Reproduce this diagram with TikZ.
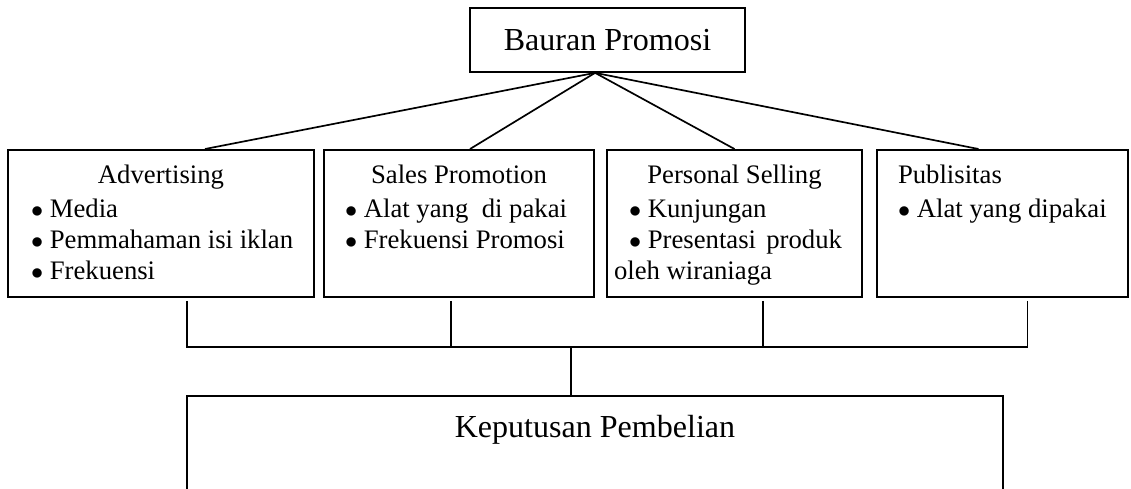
\documentclass[tikz,border=0pt]{standalone}
\usepackage{fontspec}
\setmainfont{Liberation Serif}

\begin{document}
\begin{tikzpicture}[
    ln/.style={line width=1.2pt},
    bigtxt/.style={font=\fontsize{22.8}{27}\selectfont},
    box/.style={draw, ln, anchor=north, inner xsep=0pt, inner ysep=0pt, text height=0.85cm, text depth=2.825cm, font=\fontsize{19}{22}\selectfont},
]
\useasboundingbox (0,0) rectangle (28.275,-12.2);

% Top
\node[draw, ln, bigtxt, minimum width=6.875cm, minimum height=1.6cm] (top) at (15.1875,-1.0) {Bauran Promosi};

% Elements of the mix
\node[box, minimum width=7.65cm] (adv) at (4.025,-3.725) {\parbox[t]{6.5cm}{\raggedright
    \makebox[\linewidth]{Advertising}\\[2pt]
    \mbox{$\bullet$ Media}\\
    \mbox{$\bullet$ Pemmahaman isi iklan}\\
    \mbox{$\bullet$ Frekuensi}}};
\node[box, minimum width=6.75cm] (sales) at (11.475,-3.725) {\parbox[t]{5.7cm}{\raggedright
    \makebox[\linewidth]{Sales Promotion}\\[2pt]
    \mbox{$\bullet$ Alat yang\ \ di pakai}\\
    \mbox{$\bullet$ Frekuensi Promosi}}};
\node[box, minimum width=6.375cm] (pers) at (18.3625,-3.725) {\parbox[t]{6.025cm}{\raggedright
    \makebox[\linewidth]{Personal Selling}\\[2pt]
    \hspace*{0.375cm}$\bullet$ Kunjungan\\
    \hspace*{0.375cm}$\bullet$ Presentasi\hfill produk\hspace{0.325cm}\mbox{}\\
    \mbox{oleh wiraniaga}}};
\node[box, minimum width=6.275cm] (pub) at (25.0625,-3.725) {\parbox[t]{5.225cm}{\raggedright
    Publisitas\\[2pt]
    \mbox{$\bullet$ Alat yang dipakai}}};

% Result
\node[draw, ln, bigtxt, anchor=north, minimum width=20.4cm, inner ysep=0pt, text height=1.05cm, text depth=3cm] (kep) at (14.875,-9.875) {Keputusan Pembelian};

% === LINES ===
\coordinate (apex) at ([xshift=-3.1mm]top.south);
\draw[ln] (apex) -- ([xshift=11mm]adv.north);
\draw[ln] (apex) -- ([xshift=2.75mm]sales.north);
\draw[ln] (apex) -- (pers.north);
\draw[ln] (apex) -- ([xshift=-6mm]pub.north);

% bracket to the result
\coordinate (jn) at (14.275,-8.675);
\draw[ln] ([xshift=6.5mm, yshift=-0.8mm]adv.south) |- (jn);
\draw[ln] ([xshift=-2mm, yshift=-0.8mm]sales.south) |- (jn);
\draw[ln] ([xshift=7.1mm, yshift=-0.8mm]pers.south) |- (jn);
\draw[ln] ([xshift=6.25mm, yshift=-0.8mm]pub.south) |- (jn);
\draw[ln] (jn) -- (kep.north -| jn);

\end{tikzpicture}
\end{document}
